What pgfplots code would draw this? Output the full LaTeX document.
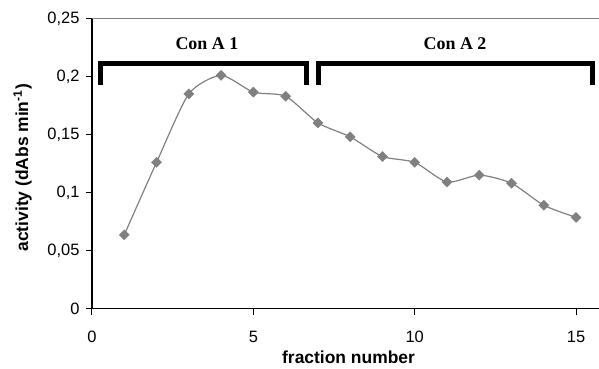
\documentclass[border=0pt]{standalone}
\usepackage{pgfplots}
\pgfplotsset{compat=1.18}
\usepackage{fontspec}
\setmainfont{Liberation Sans}
\newfontfamily\serifb{Liberation Serif}
\definecolor{ser}{RGB}{128,128,128}
\begin{document}
\begin{tikzpicture}
\begin{axis}[
  scale only axis, width=507bp, height=290bp,
  xmin=0, xmax=15.71, ymin=0, ymax=0.25,
  axis x line*=bottom, axis y line*=left,
  axis line style={-, black, line width=1.4bp},
  xtick={0,5,10,15}, ytick={0,0.05,0.1,0.15,0.2,0.25},
  yticklabels={{0},{0,05},{0,1},{0,15},{0,2},{0,25}},
  tick align=outside, major tick length=6bp,
  tick style={black, line width=1bp},
  xtick pos=bottom, ytick pos=left,
  ticklabel style={font=\fontsize{16.5}{16.5}\selectfont},
  /pgf/number format/assume math mode=true,
  xticklabel style={yshift=-13bp},
  yticklabel style={xshift=-3bp},
  xlabel={fraction number},
  ylabel={activity (dAbs min\textsuperscript{-1})},
  label style={font=\fontsize{17.5}{17.5}\selectfont\bfseries},
  xlabel style={at={(rel axis cs:0.506,-0.169)}, anchor=center},
  ylabel style={at={(rel axis cs:-0.137,0.485)}, anchor=center},
  clip=false,
]
\addplot[color=ser, line width=1.2pt, smooth, tension=0.4, mark=square*, mark size=3.6bp,
  mark options={fill=ser, draw=ser, rotate=45, line width=0.3pt}] coordinates {
 (1,0.0635) (2,0.126) (3,0.185) (4,0.201) (5,0.1865) (6,0.183) (7,0.160)
 (8,0.148) (9,0.131) (10,0.126) (11,0.109) (12,0.115) (13,0.108) (14,0.089) (15,0.0785)
};
\draw[ser, line width=1.2bp] (rel axis cs:0,1) -- (rel axis cs:1,1);
\draw[black, line width=5bp] (axis cs:0.27,0.1925) |- (axis cs:6.64,0.211) -- (axis cs:6.64,0.1925);
\draw[black, line width=5bp] (axis cs:7.03,0.1925) |- (axis cs:15.52,0.211) -- (axis cs:15.52,0.1925);
\node[font=\serifb\fontsize{18}{18}\selectfont\bfseries] at (axis cs:3.56,0.2285) {Con A 1};
\node[font=\serifb\fontsize{18}{18}\selectfont\bfseries] at (axis cs:11.25,0.2285) {Con A 2};
\end{axis}
\pgfresetboundingbox
\path (-92bp,-60.5bp) rectangle (507bp,308.5bp);
\end{tikzpicture}
\end{document}
